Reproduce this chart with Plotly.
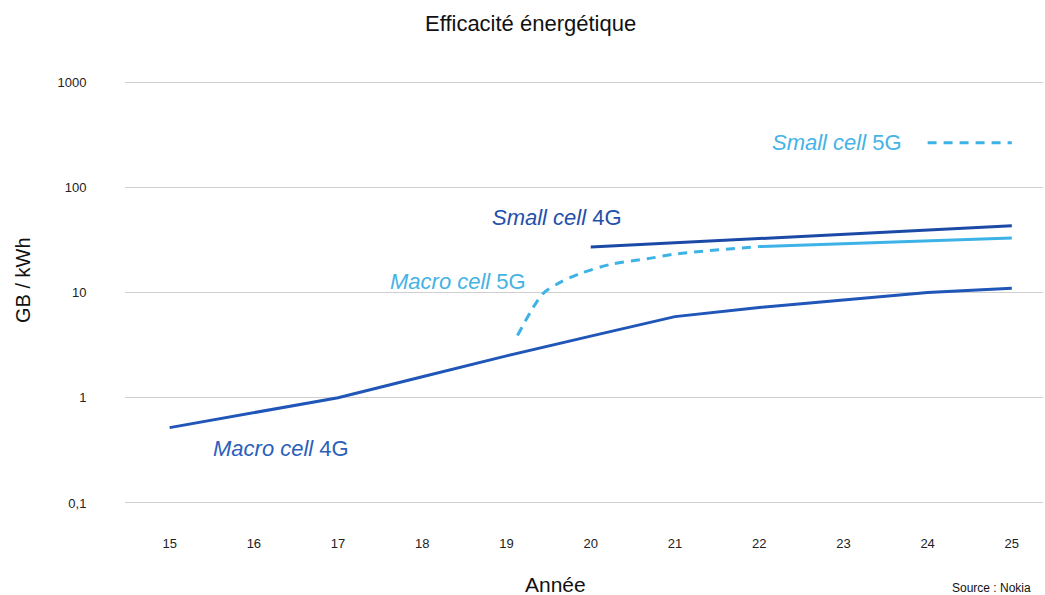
import plotly.graph_objects as go

# ---- data ----
years_tick = [15, 16, 17, 18, 19, 20, 21, 22, 23, 24, 25]
y_tick_vals = [0.1, 1, 10, 100, 1000]
y_tick_text = ["0,1", "1", "10", "100", "1000"]

macro4g_x = [15, 16, 17, 18, 19, 20, 21, 22, 23, 24, 25]
macro4g_y = [0.52, 0.72, 1.0, 1.58, 2.5, 3.85, 5.9, 7.2, 8.5, 10, 11]

small4g_x = [20, 25]
small4g_y = [27, 43]

macro5g_dash_x = [19.13, 19.43, 19.63, 19.87, 20.26, 20.67, 21.02, 22]
macro5g_dash_y = [3.9, 9.7, 12.4, 15.1, 18.7, 20.9, 23.3, 27.3]
macro5g_solid_x = [22, 25]
macro5g_solid_y = [27.3, 33]

small5g_x = [24, 25]
small5g_y = [265, 265]

DARK = "#1f56b8"
DARK2 = "#1a4aa6"
LIGHT = "#3cb2e6"
FONT = "Liberation Sans, Arial, sans-serif"

fig = go.Figure()
fig.add_trace(go.Scatter(x=macro4g_x, y=macro4g_y, mode="lines",
                         line=dict(color=DARK, width=3), hoverinfo="skip"))
fig.add_trace(go.Scatter(x=small4g_x, y=small4g_y, mode="lines",
                         line=dict(color=DARK2, width=3), hoverinfo="skip"))
fig.add_trace(go.Scatter(x=macro5g_dash_x, y=macro5g_dash_y, mode="lines",
                         line=dict(color=LIGHT, width=3, dash="9px,7px", shape="spline", smoothing=0.8),
                         hoverinfo="skip"))
fig.add_trace(go.Scatter(x=macro5g_solid_x, y=macro5g_solid_y, mode="lines",
                         line=dict(color=LIGHT, width=3), hoverinfo="skip"))
fig.add_trace(go.Scatter(x=small5g_x, y=small5g_y, mode="lines",
                         line=dict(color=LIGHT, width=3, dash="9px,7px"), hoverinfo="skip"))

ann_font = 22
annotations = [
    dict(x=19.6, y=1.709, text="<i>Small cell</i> 4G", font=dict(color="#2450ab", size=ann_font)),
    dict(x=18.42, y=1.10, text="<i>Macro cell</i> 5G", font=dict(color="#45b3e6", size=ann_font)),
    dict(x=16.32, y=-0.484, text="<i>Macro cell</i> 4G", font=dict(color="#2c5fbb", size=ann_font)),
    dict(x=22.92, y=2.43, text="<i>Small cell</i> 5G", font=dict(color="#45b3e6", size=ann_font)),
]
for a in annotations:
    a.update(xref="x", yref="y", showarrow=False, xanchor="center", yanchor="middle")

PW = 918.0
PH = 423.0
annotations += [
    dict(text="GB / kWh", xref="paper", yref="paper", x=(23 - 125) / PW, y=(504 - 280) / PH, showarrow=False,
         textangle=-90, font=dict(size=20, color="#111"), xanchor="center", yanchor="middle"),
    dict(text="Année", xref="paper", yref="paper", x=(555 - 125) / PW, y=(504 - 584) / PH,
         showarrow=False, font=dict(size=21, color="#111"), xanchor="center", yanchor="middle"),
    dict(text="Source : Nokia", xref="paper", yref="paper", x=(991 - 125) / PW, y=(504 - 588) / PH,
         showarrow=False, font=dict(size=12, color="#111"), xanchor="center", yanchor="middle"),
    dict(text="Efficacité énergétique", xref="paper", yref="paper", x=(530 - 125) / PW, y=(504 - 23) / PH,
         showarrow=False, font=dict(size=22, color="#111"), xanchor="center", yanchor="middle"),
]

fig.update_layout(
    width=1045, height=595,
    margin=dict(l=125, r=2, t=81, b=91),
    paper_bgcolor="white", plot_bgcolor="white",
    showlegend=False,
    font=dict(family=FONT, color="#222"),
    annotations=annotations,
    xaxis=dict(range=[14.47, 25.37], tickvals=years_tick, ticktext=[str(v) for v in years_tick],
               showgrid=False, zeroline=False, showline=False,
               ticks="outside", ticklen=27, tickcolor="rgba(0,0,0,0)",
               tickfont=dict(size=13, color="#222")),
    yaxis=dict(type="log", range=[-1.01, 3.01], tickvals=y_tick_vals, ticktext=y_tick_text,
               showgrid=True, gridcolor="#cfcfcf", gridwidth=1.3, zeroline=False, showline=False,
               ticks="outside", ticklen=35, tickcolor="rgba(0,0,0,0)",
               tickfont=dict(size=13, color="#222")),
)

fig.write_html("out.html", config={"displayModeBar": False},
               post_script="document.body.style.margin='0';document.body.style.overflow='hidden';")
